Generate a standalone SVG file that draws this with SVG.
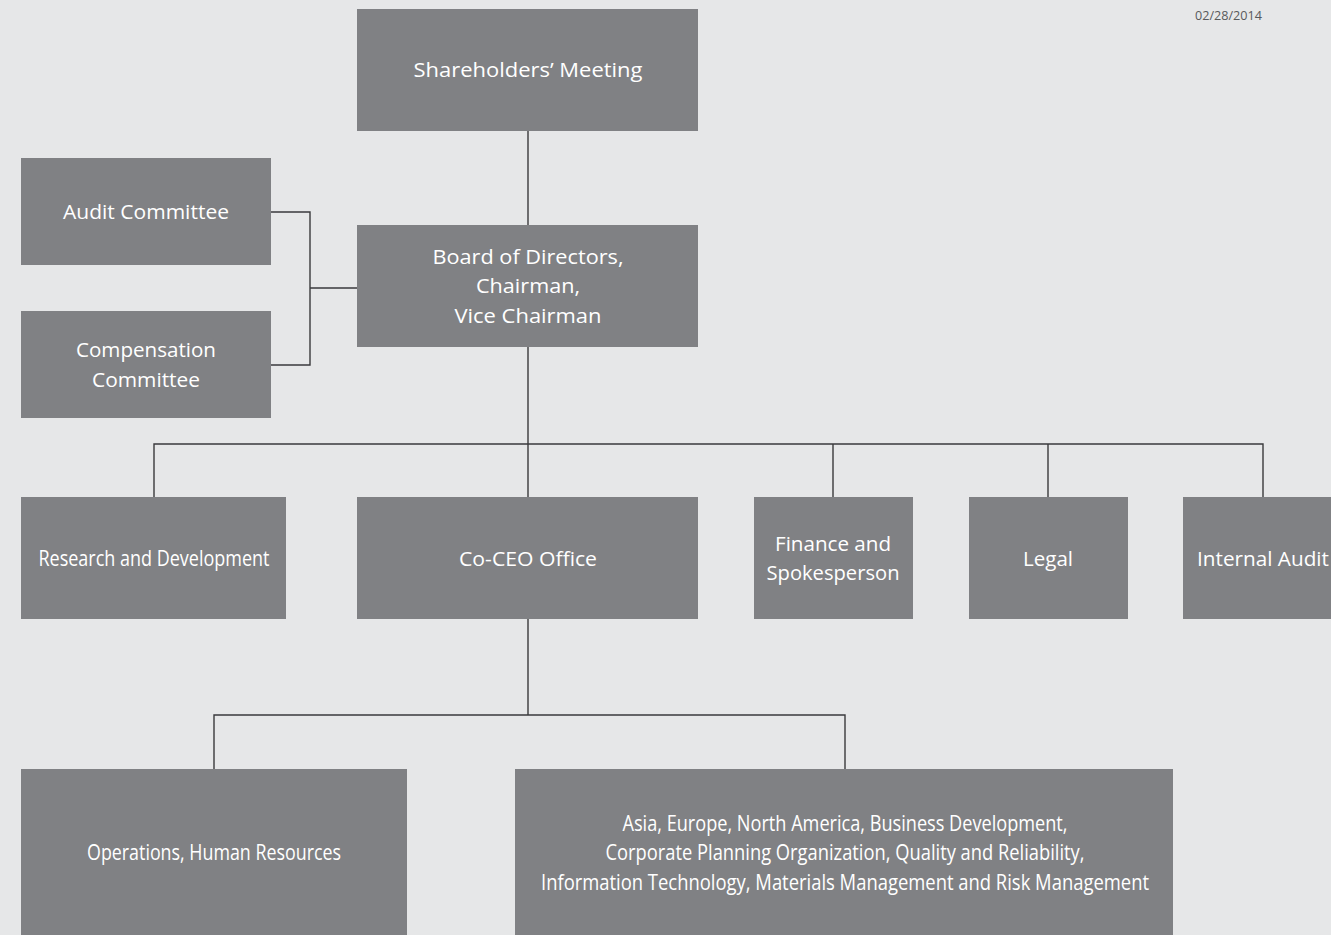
<svg xmlns="http://www.w3.org/2000/svg" width="1331" height="935" viewBox="0 0 1331 935">
<style>
.box{fill:#808184}
.t{font-family:"Open Sans","Liberation Sans",sans-serif;font-size:20px;fill:#ffffff;text-anchor:middle}
.c{font-family:"Open Sans","Liberation Sans",sans-serif;font-size:21.5px;fill:#ffffff;text-anchor:middle}
.ln{stroke:#3a3a3c;stroke-width:1.4;fill:none}
</style>
<rect width="1331" height="935" fill="#e6e7e8"/>
<text x="1195" y="20" font-family="Open Sans, Liberation Sans, sans-serif" font-size="12" fill="#58595b" textLength="67" lengthAdjust="spacingAndGlyphs">02/28/2014</text>
<g id="connectors">
<path class="ln" d="M528 131V225"/>
<path class="ln" d="M271 212H310V365H271M310 288H357"/>
<path class="ln" d="M528 347V497M154 497V444H1263V497M833 444V497M1048 444V497"/>
<path class="ln" d="M528 619V715M214 769V715H845V769"/>
</g>
<g id="shareholders"><rect class="box" x="357" y="9" width="341" height="122"/><text class="t" x="528" y="77" textLength="229" lengthAdjust="spacingAndGlyphs">Shareholders’ Meeting</text></g>
<g id="board"><rect class="box" x="357" y="225" width="341" height="122"/>
<text class="t" x="528" y="264" textLength="191" lengthAdjust="spacingAndGlyphs">Board of Directors,</text>
<text class="t" x="528" y="293" textLength="104" lengthAdjust="spacingAndGlyphs">Chairman,</text>
<text class="t" x="528" y="323" textLength="147" lengthAdjust="spacingAndGlyphs">Vice Chairman</text></g>
<g id="audit-committee"><rect class="box" x="21" y="158" width="250" height="107"/><text class="t" x="146" y="219" textLength="166" lengthAdjust="spacingAndGlyphs">Audit Committee</text></g>
<g id="compensation-committee"><rect class="box" x="21" y="311" width="250" height="107"/>
<text class="t" x="146" y="357" textLength="140" lengthAdjust="spacingAndGlyphs">Compensation</text>
<text class="t" x="146" y="387" textLength="108" lengthAdjust="spacingAndGlyphs">Committee</text></g>
<g id="rnd"><rect class="box" x="21" y="497" width="265" height="122"/><text class="c" x="154" y="566" textLength="231" lengthAdjust="spacingAndGlyphs">Research and Development</text></g>
<g id="coceo"><rect class="box" x="357" y="497" width="341" height="122"/><text class="t" x="528" y="566" textLength="138" lengthAdjust="spacingAndGlyphs">Co-CEO Office</text></g>
<g id="finance"><rect class="box" x="754" y="497" width="159" height="122"/>
<text class="t" x="833" y="551" textLength="116" lengthAdjust="spacingAndGlyphs">Finance and</text>
<text class="t" x="833" y="580" textLength="133" lengthAdjust="spacingAndGlyphs">Spokesperson</text></g>
<g id="legal"><rect class="box" x="969" y="497" width="159" height="122"/><text class="t" x="1048" y="566" textLength="50" lengthAdjust="spacingAndGlyphs">Legal</text></g>
<g id="internal-audit"><rect class="box" x="1183" y="497" width="150" height="122"/><text class="t" x="1263" y="566" textLength="132" lengthAdjust="spacingAndGlyphs">Internal Audit</text></g>
<g id="operations"><rect class="box" x="21" y="769" width="386" height="170"/><text class="c" x="214" y="860" textLength="254" lengthAdjust="spacingAndGlyphs">Operations, Human Resources</text></g>
<g id="regions"><rect class="box" x="515" y="769" width="658" height="170"/>
<text class="c" x="845" y="831" textLength="445" lengthAdjust="spacingAndGlyphs">Asia, Europe, North America, Business Development,</text>
<text class="c" x="845" y="860" textLength="479" lengthAdjust="spacingAndGlyphs">Corporate Planning Organization, Quality and Reliability,</text>
<text class="c" x="845" y="890" textLength="608" lengthAdjust="spacingAndGlyphs">Information Technology, Materials Management and Risk Management</text></g>
</svg>
